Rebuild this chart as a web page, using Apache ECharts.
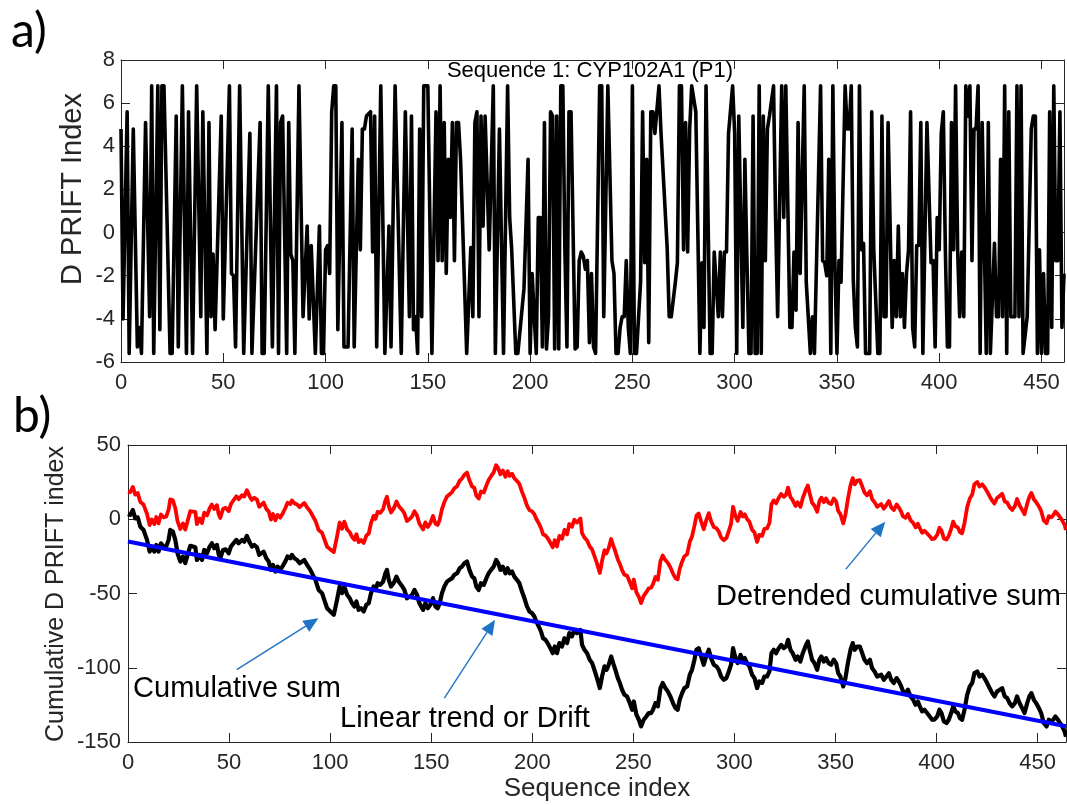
<!DOCTYPE html>
<html>
<head>
<meta charset="utf-8">
<title>D PRIFT Index – CYP102A1</title>
<script src="https://cdn.jsdelivr.net/npm/echarts@6.0.0/dist/echarts.min.js"></script>
<style>
html,body{margin:0;padding:0;background:#ffffff;}
#chart{width:1067px;height:805px;}
</style>
</head>
<body>
<div id="chart"></div>
<script>
// ---------------- data ----------------
// Panel a: D PRIFT index along the sequence (vertices of the trace)
const seqIndex = [0,1,3,4,6,8,9,10,12,14,15,16,18,19,20,21,24,25,27,28,30,32,33,35,37,39,40,42,43,44,45,46,49,50,53,54,55,56,58,60,63,64,68,69,70,
72,74,76,77,78,79,81,82,83,84,85,87,89,91,92,93,95,97,98,99,100,101,102,103,104,105,106,108,109,111,113,114,116,117,118,119,120,122,123,124,125,127,129,131,132,134,137,139,141,142,143,144,145,146,147,148,
150,152,154,155,156,157,158,159,160,161,162,163,164,165,166,169,171,172,173,174,175,176,177,178,180,182,183,185,187,189,190,191,193,194,197,199,200,201,202,203,204,205,206,207,208,209,210,211,212,213,214,215,216,217,218,219,220,222,223,224,225,226,
227,228,229,230,231,232,234,235,236,238,240,241,242,243,244,245,246,247,248,249,250,251,252,254,255,256,257,258,259,260,261,263,264,267,268,269,271,272,273,274,275,276,277,278,279,281,283,284,285,286,288,289,290,292,293,294,295,296,297,299,300,301,302,304,
305,306,307,308,309,310,311,312,313,314,315,316,317,319,320,321,323,324,325,327,328,329,330,331,332,334,335,337,338,339,342,343,344,345,346,347,348,349,350,351,352,354,355,356,357,358,359,360,361,362,363,364,366,367,368,370,371,372,373,374,375,377,378,379,380,381,382,
383,384,385,386,387,388,389,390,391,392,394,396,397,398,399,400,401,402,403,404,405,406,407,408,409,410,411,412,413,414,415,416,417,418,419,420,421,423,424,425,427,428,429,430,431,432,433,434,435,436,437,438,439,440,441,443,445,446,447,448,449,450,451,452,453,454,455,456,457,458,459,460,461];
const driftIndex = [4.8,-4.0,5.6,-5.6,4.8,-5.3,-4.4,-5.6,5.1,-3.9,6.8,-5.6,6.8,-4.5,6.8,6.8,-5.6,-5.6,5.4,-5.3,6.8,-5.6,5.6,-5.6,6.8,-3.9,5.6,-5.6,5.1,-3.9,-1.0,-4.5,5.4,-4.0,6.8,-1.9,-2.0,-5.3,6.8,-5.6,4.6,-5.6,5.1,-5.6,-5.6,
6.8,-5.3,6.8,-5.6,5.1,5.4,-5.6,5.1,-1.0,-1.3,-5.6,6.8,-3.9,0.3,-4.0,-0.6,-5.6,0.3,-5.6,-5.6,-0.8,-0.6,-1.9,5.6,6.8,6.8,-4.5,5.1,-5.3,-5.3,4.8,-5.3,3.4,-0.8,4.8,4.8,5.4,5.6,-0.9,5.4,-5.3,6.8,-5.6,0.3,-5.3,6.8,-5.6,5.6,-3.9,5.4,-4.5,-3.9,-5.6,4.8,-3.9,6.8,
6.8,-5.6,5.6,-1.3,6.8,-1.3,5.1,-1.9,3.4,0.7,5.1,-1.3,5.1,5.1,3.4,-5.6,-0.7,-3.9,5.1,5.6,-3.9,5.4,0.3,5.4,-0.8,6.8,-5.6,4.8,-5.6,6.8,0.7,-0.8,-5.6,-5.6,-2.6,3.4,-5.6,-1.9,-3.9,-5.6,0.7,0.7,-5.3,5.1,-5.4,-3.9,5.6,5.4,-5.4,5.4,-5.4,6.8,6.8,-0.8,-5.3,5.6,5.6,-5.4,-5.3,-1.3,-0.9,-1.1,
-1.7,-1.3,-5.1,-1.9,-5.3,-5.6,6.8,6.8,-3.9,6.8,-1.3,-1.9,-5.6,-5.6,-4.4,-3.9,-3.9,-1.3,-4.4,-5.6,6.8,-5.6,-5.6,-2.3,5.6,-1.4,3.4,-5.1,5.6,5.6,4.6,6.8,4.6,-0.7,-3.9,-3.9,-2.3,-1.4,6.8,6.8,-0.8,5.1,-0.9,4.8,6.8,5.6,-5.6,-1.4,-4.4,6.8,-5.6,-5.6,-0.9,-3.9,-0.9,-3.9,-0.9,-0.9,4.6,6.8,4.6,-5.6,5.4,-4.4,
3.4,-1.3,-5.6,-5.6,5.4,-5.6,-5.6,6.8,-5.6,5.4,-1.3,4.8,5.4,6.8,0.7,-3.9,6.8,0.7,6.8,-4.4,-4.4,-0.9,-3.6,5.1,-1.9,6.8,-2.3,-5.6,-3.9,-5.6,6.8,-1.3,-1.4,-2.0,3.4,-5.6,6.8,-1.4,-5.6,-1.3,-2.3,6.8,4.8,4.8,6.8,-2.2,-4.4,-5.3,6.8,-0.8,-0.5,-5.6,-5.6,5.6,-0.8,-5.6,-5.6,5.4,-3.9,-3.9,5.1,-4.4,-1.3,-3.9,0.3,-3.9,-1.9,
-4.4,-1.9,-0.8,5.6,-4.4,-5.3,-0.6,-0.6,5.1,-5.6,5.1,-1.4,-1.3,-5.3,0.7,-0.8,4.6,5.6,-0.8,-5.3,-5.3,5.1,-0.8,6.8,-0.8,-3.9,-0.9,-3.9,6.8,5.4,6.8,-1.3,4.8,4.8,6.8,-5.6,5.1,-5.6,5.1,-5.6,-0.5,-3.9,-3.9,3.4,-3.9,6.8,-5.6,5.6,-3.9,-3.9,-3.9,6.8,-3.9,6.8,-5.6,-3.9,4.8,5.4,5.4,-5.6,-0.8,-5.6,-1.9,-5.6,-5.6,5.6,-4.4,6.8,-1.3,-1.3,5.6,-4.4,-1.9];

// Panel b: cumulative sum, detrended cumulative sum and the linear trend
const cumIndex = [0,1.1,2.4,3.6,4.8,6.1,7.7,9.4,10.7,11.8,13,14,15.1,16.3,17.6,18.9,20.1,20.9,22.2,23.4,24.5,25.9,27.2,28.3,29.5,30.8,32.1,33.3,34.1,35.4,36.6,37.7,39.1,40.4,41.5,42.7,44,44.8,45.6,47,48.3,49.8,50.9,52.2,53.6,54.7,55.5,56.4,57.5,58.8,60.2,61.3,62.5,63.8,64.9,65.8,67.1,68.4,69.6,70.7,71.7,72.9,74,75.3,76.6,77.8,78.9,80.3,81.1,82.3,83.6,84.9,
87.2,88.6,90.2,92.7,94.3,96,97.1,98.5,100.1,101.8,103.4,104.7,105.9,107,108.4,109.7,110.8,112,113,114.1,115.3,116.6,117.9,119.1,120.2,121.5,122.4,123.5,124.8,126.2,127.3,128.1,129,130.1,131.4,132.8,133.9,134.7,135.7,136.7,138,139.3,140.5,141.7,143,144.1,145,146,147.1,148.3,149.6,150.9,152.1,153.2,154.2,155.3,156.5,157.8,159.1,160.3,161.4,162.8,164.1,165.2,166.4,167.7,168.9,170.2,171.3,172.3,173.5,174.6,176,177.3,178.4,179.6,180.9,182.1,183.1,184.2,185.4,186.7,187.8,188.8,190,191.1,192.4,193.6,194.9,196.1,197.4,198.6,199.9,201,202,203.2,204.3,205.3,206.5,207.6,208.9,210.1,211.1,212.2,213.4,214.7,215.9,217.2,218.3,219.6,220.8,222.1,223.8,
224.6,225.8,227.1,228.4,229.6,230.7,232,233.4,234.5,235.7,236.7,237.8,239,240,241.1,242.3,243.3,244.4,245.6,246.9,248.2,249.4,250.2,251.5,252.7,253.8,255.1,256.4,257.6,258.8,259.7,260.9,262.1,263.4,264.5,265.8,267,268.3,269.6,270.8,271.9,272.9,274.1,275.2,276.6,277.9,279,280.2,281.2,282.3,283.5,284.8,286,287.3,288.4,289.8,291.1,292.2,293.4,294.7,296,297.2,298.3,299.3,300.5,301.6,303,304.1,305.1,306.2,307.4,308.7,309.9,311.2,312.3,313.7,314.8,316.1,317.3,318.3,319.4,320.6,321.9,323.1,324.4,325.5,326.5,327.7,328.8,330.2,331.3,332.6,333.8,335.1,336.3,337.2,338.4,339.6,340.9,342,343,344.2,345.3,346.6,347.8,349.1,350.3,351.3,352.4,
352.8,353.8,354.9,356.1,357.4,358.5,359.5,360.7,362,363.2,364.3,365.6,367,368.1,369.3,370.6,371.4,372.6,373.9,375.2,376.4,377.5,378.8,380.2,381.3,382.5,383.4,384.6,385.8,387.1,388.4,389.6,390.7,391.7,392.8,394,395.3,396.6,397.8,398.9,400.3,401.4,402.4,403.6,404.9,406,407.2,408.2,409.3,410.5,411.5,412.6,413.8,415.1,416.4,417.6,418.7,420.1,421.2,422.5,423.7,425,426.2,427.5,428.6,429.9,431.3,432.4,433.7,434.9,436.1,437.4,438.7,439.8,441,442.3,443.5,444.8,445.9,446.9,448.1,449.2,450.6,451.7,453,454.4,455.5,456.7,457.7,458.8,460,461,462.1,463.3,464];
const cumulativeSum = [3.5,2.9,6.2,0.6,1.3,-5.0,-7.2,-13.9,-21.8,-18.4,-21.8,-17.3,-21.8,-16.2,-18.4,-18.4,-13.9,-7.2,-8.3,-13.9,-22.9,-28.5,-25.1,-29.6,-24.0,-17.9,-18.4,-18.9,-27.4,-24.0,-27.4,-20.7,-22.9,-18.4,-16.2,-19.5,-17.3,-23.4,-26.3,-20.7,-20.2,-22.9,-18.4,-16.2,-13.9,-16.2,-15.7,-13.9,-15.1,-11.2,-15.7,-18.4,-17.3,-18.9,-24.0,-22.9,-21.8,-26.3,-28.5,-34.1,-30.7,-35.2,-31.9,-34.1,-31.4,-28.5,-25.1,-26.3,-24.0,-26.3,-27.4,-29.6,
-27.4,-30.7,-34.1,-40.8,-47.6,-49.8,-54.3,-59.9,-62.1,-64.4,-54.3,-45.3,-49.8,-45.3,-50.9,-53.2,-56.5,-58.8,-55.4,-61.0,-59.9,-62.1,-57.6,-56.5,-49.8,-45.3,-47.6,-43.1,-44.2,-42.0,-36.4,-34.1,-40.8,-45.3,-43.1,-38.6,-42.0,-43.1,-45.3,-47.6,-53.2,-52.1,-50.9,-47.6,-50.9,-56.5,-57.7,-61.0,-56.5,-59.9,-57.6,-53.2,-58.8,-59.9,-56.5,-49.8,-45.3,-42.0,-40.8,-39.7,-37.5,-36.4,-33.0,-31.9,-29.6,-28.5,-34.1,-38.6,-39.7,-45.3,-47.6,-43.1,-44.2,-39.7,-36.4,-34.1,-31.9,-27.4,-29.6,-34.1,-31.9,-36.4,-33.0,-36.4,-35.2,-38.6,-40.8,-43.1,-48.7,-53.2,-58.8,-62.1,-63.3,-65.5,-68.9,-72.2,-75.6,-80.1,-81.2,-83.4,-86.8,-90.2,-85.7,-90.2,-83.4,-85.7,-80.1,-83.4,-76.7,-78.9,-74.5,-76.7,-74.5,
-84.6,-87.9,-90.2,-94.6,-96.9,-101.4,-107.0,-113.7,-105.9,-99.1,-101.4,-98.0,-92.4,-96.9,-101.4,-107.0,-110.3,-114.8,-118.2,-119.3,-123.8,-128.3,-122.7,-131.6,-135.0,-139.5,-135.0,-132.8,-130.5,-130.5,-128.3,-123.8,-126.0,-113.7,-110.3,-113.7,-115.9,-119.3,-123.8,-127.2,-128.3,-121.6,-117.1,-113.7,-112.6,-104.7,-101.4,-94.6,-87.9,-86.8,-92.4,-98.0,-92.4,-87.9,-93.5,-98.0,-99.1,-101.4,-105.9,-108.1,-107.0,-102.5,-98.0,-86.8,-93.5,-96.9,-91.3,-94.6,-93.5,-96.9,-99.1,-104.7,-107.0,-113.7,-109.2,-110.3,-105.9,-105.9,-102.5,-90.2,-87.9,-90.2,-86.8,-84.6,-86.8,-85.7,-81.2,-87.9,-90.2,-94.6,-92.4,-95.8,-90.2,-85.7,-82.3,-87.9,-94.6,-96.9,-101.4,-94.6,-92.4,-95.8,-93.5,-96.9,-98.0,-94.6,-96.9,-103.6,-105.9,
-107.0,-112.6,-107.0,-96.9,-87.9,-83.4,-87.9,-85.7,-85.7,-90.2,-94.6,-96.9,-94.6,-100.3,-102.5,-105.9,-107.0,-104.7,-108.1,-105.9,-103.6,-108.1,-110.3,-107.0,-109.2,-112.6,-115.9,-117.1,-114.8,-119.3,-121.6,-124.9,-122.7,-126.0,-129.4,-128.3,-130.5,-132.8,-135.0,-135.0,-132.8,-128.3,-130.5,-136.1,-137.2,-135.0,-130.5,-126.0,-129.4,-130.5,-133.9,-135.0,-128.3,-118.2,-112.6,-110.3,-103.6,-102.5,-105.9,-104.7,-107.0,-110.3,-113.7,-117.1,-119.3,-115.9,-114.8,-113.7,-119.3,-120.4,-123.8,-126.0,-123.8,-119.3,-123.8,-127.2,-130.5,-123.8,-119.3,-117.1,-121.6,-123.8,-127.2,-130.5,-137.2,-139.5,-135.0,-136.1,-135.0,-132.8,-135.0,-137.2,-139.5,-142.9,-146.5];
const detrendedSum = [18.5,18.2,21.8,16.6,17.6,11.6,9.9,3.6,-3.9,-0.2,-3.3,1.5,-2.8,3.2,1.3,1.7,6.5,13.4,12.7,7.4,-1.3,-6.6,-2.8,-7.0,-1.1,5.4,5.2,5.0,-3.3,0.5,-2.6,4.4,2.6,7.4,9.9,6.9,9.5,3.6,0.9,6.9,7.7,5.5,10.2,12.8,15.5,13.5,14.2,16.2,15.3,19.6,15.4,13.0,14.5,13.2,8.4,9.7,11.2,7.0,5.2,-0.2,3.5,-0.7,2.9,1.1,4.1,7.4,11.1,10.2,12.7,10.8,10.0,8.2,
11.0,8.0,5.1,-1.0,-7.3,-9.1,-13.3,-18.5,-20.3,-22.1,-11.6,-2.2,-6.4,-1.6,-6.9,-8.8,-11.8,-13.8,-10.1,-15.4,-14.0,-15.9,-11.0,-9.6,-2.6,2.3,0.2,5.0,4.3,6.8,12.7,15.2,8.8,4.6,7.1,12.0,8.9,8.0,6.1,4.0,-1.2,0.2,1.8,5.4,2.4,-2.9,-3.8,-6.9,-2.1,-5.2,-2.5,2.2,-3.0,-3.8,-0.2,6.8,11.6,15.3,16.8,18.3,20.8,22.2,26.0,27.4,30.0,31.4,26.2,22.0,21.2,15.9,13.9,18.7,18.0,22.8,26.4,29.0,31.6,36.4,34.5,30.3,32.8,28.6,32.3,29.2,30.7,27.6,25.8,23.8,18.5,14.4,9.1,6.1,5.3,3.4,0.2,-2.7,-5.9,-10.1,-10.9,-12.8,-15.8,-18.9,-14.1,-18.3,-11.2,-13.2,-7.2,-10.2,-3.2,-5.1,-0.3,-2.2,0.5,
-9.4,-12.4,-14.3,-18.4,-20.4,-24.6,-29.8,-36.2,-28.1,-20.9,-23.0,-19.3,-13.3,-17.6,-21.8,-27.1,-30.1,-34.3,-37.4,-38.1,-42.3,-46.5,-40.6,-49.2,-52.3,-56.5,-51.6,-49.1,-46.5,-46.1,-43.7,-38.9,-40.8,-28.1,-24.4,-27.5,-29.3,-32.4,-36.6,-39.6,-40.4,-33.5,-28.6,-25.0,-23.5,-15.2,-11.6,-4.5,2.5,3.9,-1.4,-6.7,-0.8,4.1,-1.2,-5.3,-6.1,-8.1,-12.3,-14.1,-12.7,-7.9,-3.1,8.4,2.0,-1.1,4.9,1.9,3.3,0.2,-1.7,-7.0,-8.9,-15.3,-10.5,-11.2,-6.5,-6.2,-2.5,10.1,12.7,10.7,14.5,17.0,15.1,16.5,21.3,14.9,12.9,8.9,11.4,8.3,14.3,19.1,22.8,17.5,11.1,9.1,5.0,12.1,14.5,11.5,14.0,11.0,10.2,14.0,12.0,5.6,3.5,
2.6,-2.8,3.1,13.5,22.9,27.7,23.5,26.0,26.3,22.1,18.0,16.1,18.8,13.4,11.5,8.4,7.5,10.2,7.1,9.7,12.3,8.1,6.2,9.9,8.0,4.9,1.9,1.0,3.6,-0.6,-2.5,-5.5,-3.0,-6.0,-9.1,-7.7,-9.6,-11.5,-13.4,-13.1,-10.5,-5.7,-7.7,-12.9,-13.7,-11.2,-6.4,-1.6,-4.7,-5.5,-8.6,-9.4,-2.4,8.1,14.0,16.6,23.6,25.1,22.0,23.5,21.6,18.6,15.5,12.5,10.6,14.3,15.8,17.2,11.9,11.2,8.1,6.2,8.8,13.6,9.4,6.3,3.4,10.4,15.2,17.7,13.5,11.6,8.6,5.6,-0.8,-2.7,2.1,1.3,2.7,5.2,3.3,1.4,-0.7,-3.7,-7.2];
const trendIndex = [0, 464];
const trendValue = [-15, -139.4];

// tick labels
const xTicksA = [0,50,100,150,200,250,300,350,400,450];
const yTicksA = [-6,-4,-2,0,2,4,6,8];
const xTicksB = [0,50,100,150,200,250,300,350,400,450];
const yTicksB = [-150,-100,-50,0,50];
const xMaxA = 461, xMaxB = 464;

// texts
const panelTitle = 'Sequence 1: CYP102A1 (P1)';
const yNameA = 'D PRIFT Index';
const yNameB = 'Cumulative D PRIFT index';
const xNameB = 'Sequence index';
const notes = ['Cumulative sum', 'Linear trend or Drift', 'Detrended cumulative sum'];

// ---------------- chart ----------------
const INK = '#262626';
const FONT = '"Liberation Sans", Arial, Helvetica, sans-serif';
const ARROW = '#1f74c6';

const zip = (xs, ys) => xs.map((x, i) => [x, ys[i]]);

function xAx(grid, ticks, max, pos, labels) {
  return {
    gridIndex: grid, type: 'value', min: ticks[0], max: max, interval: ticks[1] - ticks[0],
    position: pos,
    axisLine: {show: true, onZero: false, lineStyle: {color: INK, width: 1}},
    axisTick: {show: true, inside: true, length: 9, customValues: ticks, lineStyle: {color: INK, width: 1}},
    axisLabel: {show: labels, customValues: ticks, fontSize: 22, fontFamily: FONT, color: INK, margin: 10},
    splitLine: {show: false}
  };
}
function yAx(grid, ticks, pos, labels, margin) {
  return {
    gridIndex: grid, type: 'value', min: ticks[0], max: ticks[ticks.length - 1], interval: ticks[1] - ticks[0],
    position: pos,
    axisLine: {show: true, onZero: false, lineStyle: {color: INK, width: 1}},
    axisTick: {show: true, inside: true, length: 9, customValues: ticks, lineStyle: {color: INK, width: 1}},
    axisLabel: {show: labels, customValues: ticks, fontSize: 22, fontFamily: FONT, color: INK, margin: margin},
    splitLine: {show: false}
  };
}

const chart = echarts.init(document.getElementById('chart'), null, {renderer: 'canvas'});

const option = {
  animation: false,
  backgroundColor: '#ffffff',
  grid: [
    {left: 121, top: 60, width: 943, height: 302},
    {left: 128, top: 445, width: 938, height: 297}
  ],
  xAxis: [
    xAx(0, xTicksA, xMaxA, 'bottom', true),
    xAx(0, xTicksA, xMaxA, 'top', false),
    xAx(1, xTicksB, xMaxB, 'bottom', true),
    xAx(1, xTicksB, xMaxB, 'top', false)
  ],
  yAxis: [
    yAx(0, yTicksA, 'left', true, 6),
    yAx(0, yTicksA, 'right', false, 6),
    yAx(1, yTicksB, 'left', true, 7),
    yAx(1, yTicksB, 'right', false, 7)
  ],
  series: [
    {name: 'D PRIFT', type: 'line', xAxisIndex: 0, yAxisIndex: 0, data: zip(seqIndex, driftIndex),
      showSymbol: false, symbol: 'none', clip: true,
      lineStyle: {color: '#000000', width: 3.6, join: 'round'}, z: 3},
    {name: 'Detrended cumulative sum', type: 'line', xAxisIndex: 2, yAxisIndex: 2, data: zip(cumIndex, detrendedSum),
      showSymbol: false, symbol: 'none', clip: true,
      lineStyle: {color: '#ff0000', width: 3.8, join: 'round'}, z: 3},
    {name: 'Cumulative sum', type: 'line', xAxisIndex: 2, yAxisIndex: 2, data: zip(cumIndex, cumulativeSum),
      showSymbol: false, symbol: 'none', clip: true,
      lineStyle: {color: '#000000', width: 4.2, join: 'round'}, z: 4},
    {name: 'Linear trend', type: 'line', xAxisIndex: 2, yAxisIndex: 2, data: zip(trendIndex, trendValue),
      showSymbol: false, symbol: 'none', clip: true,
      lineStyle: {color: '#0000ff', width: 4.2}, z: 5}
  ]
};
chart.setOption(option);

// ---------- annotations (anchored in data space of panel b) ----------
const toPx = (p) => chart.convertToPixel({seriesIndex: 2}, p);
function arrow(from, to) {
  const a = toPx(from), b = toPx(to);
  const dx = b[0] - a[0], dy = b[1] - a[1], L = Math.hypot(dx, dy);
  const ux = dx / L, uy = dy / L, hl = 15, hw = 6.5;
  const bx = b[0] - ux * hl, by = b[1] - uy * hl;
  return [
    {type: 'line', z: 10, shape: {x1: a[0], y1: a[1], x2: bx, y2: by}, style: {stroke: ARROW, lineWidth: 1.4}},
    {type: 'polygon', z: 10, shape: {points: [[b[0], b[1]], [bx - uy * hw, by + ux * hw], [bx + uy * hw, by - ux * hw]]}, style: {fill: ARROW}}
  ];
}
function note(text, at) {
  const p = toPx(at);
  return {type: 'text', z: 10, x: p[0], y: p[1],
    style: {text: text, font: '29px ' + FONT, fill: '#000000', textAlign: 'left', textVerticalAlign: 'middle'}};
}

const LABEL_FONT = 'Lato, "Open Sans", sans-serif';
const graphics = [
  {type: 'text', x: 11, y: 32, style: {text: 'a)', font: '48px ' + LABEL_FONT, fill: '#000', textAlign: 'left', textVerticalAlign: 'middle'}},
  {type: 'text', x: 13, y: 417, style: {text: 'b)', font: '48px ' + LABEL_FONT, fill: '#000', textAlign: 'left', textVerticalAlign: 'middle'}},
  {type: 'text', x: 590, y: 71, style: {text: panelTitle, font: '22px ' + FONT, fill: '#000', textAlign: 'center', textVerticalAlign: 'middle'}},
  {type: 'text', x: 73, y: 189, rotation: Math.PI / 2, style: {text: yNameA, font: '29px ' + FONT, fill: INK, textAlign: 'center', textVerticalAlign: 'middle'}},
  {type: 'text', x: 56, y: 594, rotation: Math.PI / 2, style: {text: yNameB, font: '25px ' + FONT, fill: INK, textAlign: 'center', textVerticalAlign: 'middle'}},
  {type: 'text', x: 597, y: 789, style: {text: xNameB, font: '26px ' + FONT, fill: INK, textAlign: 'center', textVerticalAlign: 'middle'}},
  note(notes[0], [2.5, -114.1]),
  note(notes[1], [104.9, -134.3]),
  note(notes[2], [290.9, -52.3])
].concat(
  arrow([53.8, -101.3], [94.2, -66.6]),
  arrow([156.5, -120.4], [181.6, -67.7]),
  arrow([355.1, -33.6], [374.6, -1.6])
);
chart.setOption({graphic: graphics});
</script>
</body>
</html>
